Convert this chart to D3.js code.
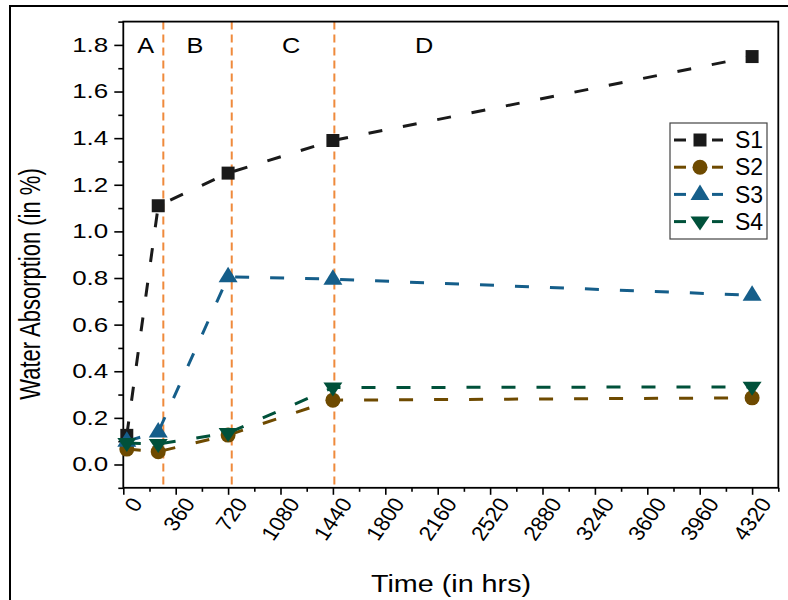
<!DOCTYPE html>
<html><head><meta charset="utf-8">
<script src="https://cdn.jsdelivr.net/npm/d3@7"></script>
<style>body{margin:0;background:#fff} svg{display:block} text{font-family:"Liberation Sans",Arial,sans-serif;fill:#000}</style>
</head><body>
<svg id="c" width="788" height="600"></svg>
<script>
const times = [24, 240, 720, 1440, 4320];
const seriesNames = ["S1", "S2", "S3", "S4"];
const s1 = [0.125, 1.11, 1.25, 1.39, 1.75];
const s2 = [0.066, 0.055, 0.126, 0.276, 0.286];
const s3 = [0.10, 0.139, 0.805, 0.795, 0.726];
const s4 = [0.092, 0.088, 0.135, 0.330, 0.333];
const phaseBounds = [275, 745, 1450];
const phaseLabels = ["A", "B", "C", "D"];
const phaseLabelTimes = [153, 493, 1153, 2067];
const xTicks = [0, 360, 720, 1080, 1440, 1800, 2160, 2520, 2880, 3240, 3600, 3960, 4320];
const xMinor = [180, 540, 900, 1260, 1620, 1980, 2340, 2700, 3060, 3420, 3780, 4140, 4500];
const yTicks = [0, 0.2, 0.4, 0.6, 0.8, 1.0, 1.2, 1.4, 1.6, 1.8];
const yMinor = [-0.1, 0.1, 0.3, 0.5, 0.7, 0.9, 1.1, 1.3, 1.5, 1.7, 1.9];

const colors = ["#1a1a1a", "#6e4a00", "#155e8a", "#00513a"];
const shapes = ["square", "circle", "up", "down"];
const allSeries = [s1, s2, s3, s4];

const svg = d3.select("#c");
const x = d3.scaleLinear().domain([0, 4500]).range([123.3, 778.3]);
const y = d3.scaleLinear().domain([-0.1, 1.9]).range([487.8, 21.6]);

// outer frame
svg.append("rect").attr("x", 10).attr("y", 6).attr("width", 800).attr("height", 620)
  .attr("fill", "none").attr("stroke", "#000").attr("stroke-width", 2);

// phase lines
svg.selectAll(".phase").data(phaseBounds).join("line")
  .attr("x1", d => x(d)).attr("x2", d => x(d))
  .attr("y1", y(1.9)).attr("y2", y(-0.1))
  .attr("stroke", "#ef8a3c").attr("stroke-width", 2).attr("stroke-dasharray", "8,5");

svg.selectAll(".plab").data(phaseLabels).join("text")
  .attr("transform", (d, i) => `translate(${x(phaseLabelTimes[i])},${y(1.8)}) scale(1.15,1)`)
  .attr("dy", "0.35em").attr("text-anchor", "middle").attr("font-size", 22).text(d => d);

// axes
const gx = svg.append("g").attr("transform", `translate(0,${y(-0.1)})`)
  .call(d3.axisBottom(x).tickValues(xTicks).tickSize(7).tickFormat(d3.format("d")));
gx.select(".domain").remove();
gx.selectAll("line").attr("stroke", "#000").attr("stroke-width", 1.6);
gx.selectAll("text").attr("font-size", 20.5)
  .attr("y", 0).attr("dy", "0.35em").attr("text-anchor", "end")
  .attr("transform", "translate(13,12) scale(1.1,1) rotate(-57)");
const gxm = svg.append("g").attr("transform", `translate(0,${y(-0.1)})`)
  .call(d3.axisBottom(x).tickValues(xMinor).tickSize(4).tickFormat(""));
gxm.select(".domain").remove();
gxm.selectAll("line").attr("stroke", "#000").attr("stroke-width", 1.6);

const gy = svg.append("g").attr("transform", `translate(${x(0)},0)`)
  .call(d3.axisLeft(y).tickValues(yTicks).tickSize(9).tickPadding(5).tickFormat(d3.format(".1f")));
gy.select(".domain").remove();
gy.selectAll("line").attr("stroke", "#000").attr("stroke-width", 1.6);
gy.selectAll("text").attr("font-size", 20).attr("x", 0)
  .attr("transform", "translate(-15,0) scale(1.3,1)");
const gym = svg.append("g").attr("transform", `translate(${x(0)},0)`)
  .call(d3.axisLeft(y).tickValues(yMinor).tickSize(5).tickFormat(""));
gym.select(".domain").remove();
gym.selectAll("line").attr("stroke", "#000").attr("stroke-width", 1.6);

// plot frame
svg.append("rect").attr("x", x(0)).attr("y", y(1.9))
  .attr("width", x(4500) - x(0)).attr("height", y(-0.1) - y(1.9))
  .attr("fill", "none").attr("stroke", "#000").attr("stroke-width", 1.8);

// marker path
function markerPath(shape) {
  if (shape === "square") return "M-6.5,-6.5H6.5V6.5H-6.5Z";
  if (shape === "circle") return "M7.5,0A7.5,7.5 0 1,1 -7.5,0A7.5,7.5 0 1,1 7.5,0Z";
  if (shape === "up") return "M0,-10L9.5,5.5L-9.5,5.5Z";
  return "M0,9L9.5,-5L-9.5,-5Z";
}

const line = d3.line().x(d => x(d[0])).y(d => y(d[1]));
allSeries.forEach((vals, i) => {
  const pts = times.map((t, j) => [t, vals[j]]);
  const g = svg.append("g");
  g.append("path").datum(pts).attr("d", line).attr("fill", "none")
    .attr("stroke", colors[i]).attr("stroke-width", 3).attr("stroke-dasharray", "14,21");
  g.selectAll("path.m").data(pts).join("path").attr("class", "m")
    .attr("transform", d => `translate(${x(d[0])},${y(d[1])})`)
    .attr("d", markerPath(shapes[i])).attr("fill", colors[i]);
});

// legend
const lg = svg.append("g");
lg.append("rect").attr("x", 670).attr("y", 123).attr("width", 97).attr("height", 116)
  .attr("fill", "#fff").attr("stroke", "#444").attr("stroke-width", 1.2);
seriesNames.forEach((name, i) => {
  const cy = 140 + i * 27.2;
  lg.append("line").attr("x1", 674).attr("x2", 686).attr("y1", cy).attr("y2", cy)
    .attr("stroke", colors[i]).attr("stroke-width", 3);
  lg.append("line").attr("x1", 712).attr("x2", 723).attr("y1", cy).attr("y2", cy)
    .attr("stroke", colors[i]).attr("stroke-width", 3);
  lg.append("path").attr("transform", `translate(700,${cy})`).attr("d", markerPath(shapes[i]))
    .attr("fill", colors[i]);
  lg.append("text").attr("x", 735).attr("y", cy).attr("dy", "0.36em").attr("font-size", 23).text(name);
});

// titles
svg.append("text").attr("transform", "translate(451,592) scale(1.25,1)").attr("text-anchor", "middle")
  .attr("font-size", 23).text("Time (in hrs)");
svg.append("text").attr("transform", "translate(40,284) scale(1.35,1) rotate(-90)").attr("text-anchor", "middle")
  .attr("font-size", 22).text("Water Absorption (in %)");
</script>
</body></html>
